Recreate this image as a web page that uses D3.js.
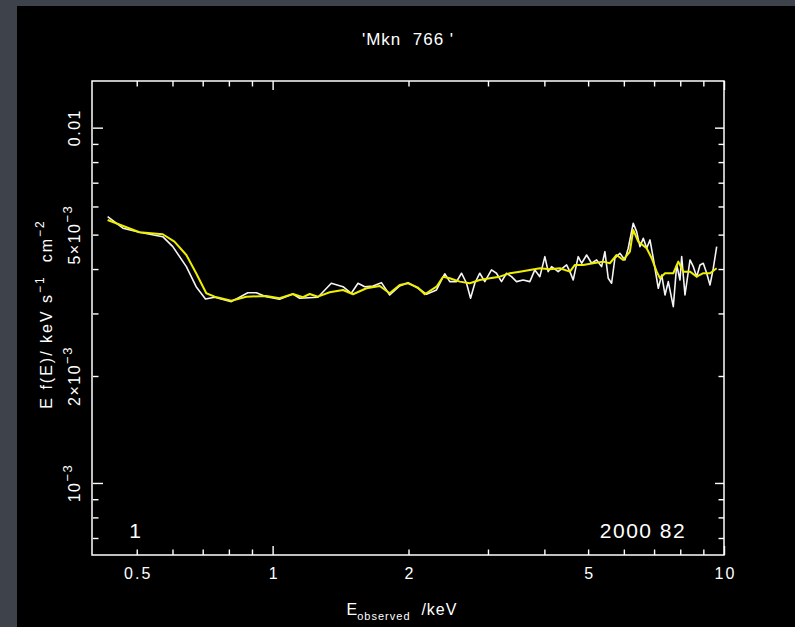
<!DOCTYPE html>
<html>
<head>
<meta charset="utf-8">
<script src="https://cdn.jsdelivr.net/npm/d3@7"></script>
<style>
  body { margin: 0; background: #3e434b; }
  svg text { font-family: "Liberation Sans", Arial, Helvetica, sans-serif; fill: #fff; }
</style>
</head>
<body>
<div id="viz"></div>
<script>
// Observed spectrum (white) and model (yellow); flux in units of 1e-3 keV s^-1 cm^-2
const dataEnergy = [0.431, 0.466, 0.507, 0.571, 0.601, 0.644, 0.677, 0.710, 0.744, 0.810,
  0.881, 0.920, 0.968, 1.036, 1.109, 1.148, 1.260, 1.349, 1.432, 1.494,
  1.546, 1.600, 1.669, 1.742, 1.817, 1.912, 1.995, 2.100, 2.192, 2.307,
  2.406, 2.469, 2.555, 2.621, 2.689, 2.745, 2.805, 2.877, 2.952, 3.054,
  3.133, 3.214, 3.297, 3.383, 3.470, 3.589, 3.714, 3.810, 3.909, 4.010,
  4.078, 4.150, 4.292, 4.480, 4.556, 4.634, 4.753, 4.837, 4.962, 5.090,
  5.221, 5.356, 5.447, 5.540, 5.636, 5.732, 5.880, 6.032, 6.135, 6.294,
  6.404, 6.513, 6.625, 6.740, 6.855, 6.971, 7.152, 7.278, 7.401, 7.526,
  7.721, 7.856, 7.989, 8.059, 8.195, 8.408, 8.551, 8.700, 8.847, 8.997,
  9.154, 9.311, 9.469, 9.634];
const dataFlux = [5.617, 5.211, 5.077, 4.934, 4.626, 4.063, 3.568, 3.295, 3.332, 3.238,
  3.432, 3.432, 3.344, 3.289, 3.403, 3.310, 3.332, 3.648, 3.568, 3.419,
  3.648, 3.568, 3.585, 3.662, 3.381, 3.585, 3.662, 3.532, 3.397, 3.493,
  3.880, 3.687, 3.687, 3.893, 3.648, 3.310, 3.648, 3.893, 3.687, 3.977,
  3.893, 3.687, 3.893, 3.807, 3.687, 3.727, 3.687, 3.977, 3.807, 4.334,
  3.933, 4.063, 3.933, 4.108, 3.933, 3.727, 4.334, 4.153, 4.382, 4.153,
  4.243, 4.063, 4.477, 3.768, 3.648, 4.290, 4.431, 4.243, 4.578, 5.382,
  5.097, 4.626, 4.883, 4.578, 4.830, 4.290, 3.532, 3.849, 3.381, 3.687,
  3.135, 4.108, 3.727, 4.334, 3.381, 4.243, 4.063, 3.807, 4.108, 4.153,
  3.893, 3.608, 4.021, 4.626];

const modelEnergy = [0.431, 0.507, 0.571, 0.606, 0.644, 0.677, 0.713, 0.744, 0.810, 0.874,
  0.968, 1.036, 1.109, 1.167, 1.208, 1.260, 1.338, 1.432, 1.507, 1.614,
  1.727, 1.817, 1.912, 1.995, 2.100, 2.173, 2.307, 2.386, 2.469, 2.598,
  2.734, 2.877, 3.028, 3.186, 3.354, 3.529, 3.714, 3.909, 4.114, 4.329,
  4.556, 4.674, 4.875, 5.131, 5.400, 5.587, 5.782, 5.980, 6.188, 6.294,
  6.457, 6.740, 6.915, 7.094, 7.215, 7.401, 7.721, 7.921, 8.126, 8.408,
  8.700, 8.997, 9.311, 9.634];
const modelFlux = [5.498, 5.077, 5.012, 4.777, 4.382, 3.893, 3.419, 3.344, 3.259, 3.344,
  3.359, 3.310, 3.403, 3.332, 3.403, 3.344, 3.441, 3.493, 3.397, 3.532,
  3.585, 3.419, 3.608, 3.648, 3.545, 3.397, 3.568, 3.807, 3.768, 3.687,
  3.648, 3.727, 3.768, 3.807, 3.893, 3.933, 3.977, 4.021, 3.996, 4.021,
  3.933, 4.108, 4.108, 4.153, 4.197, 4.153, 4.382, 4.243, 4.477, 5.153,
  4.777, 4.578, 4.290, 3.933, 3.768, 3.893, 3.893, 4.197, 3.933, 3.933,
  3.807, 3.893, 3.893, 4.021];

// Ticks
const xMinorTicks = [0.5, 0.6, 0.7, 0.8, 0.9, 2, 3, 4, 5, 6, 7, 8, 9];
const xMajorTicks = [1, 10];
const xLabelTicks = [0.5, 1, 2, 5, 10];
const yMinorTicks = [7e-4, 8e-4, 9e-4, 2e-3, 3e-3, 4e-3, 5e-3, 6e-3, 7e-3, 8e-3, 9e-3];
const yMajorTicks = [1e-3, 1e-2];
const yLabelTicks = [1e-2, 5e-3, 2e-3, 1e-3];
const yLabelBase = ['0.01', '5×10', '2×10', '10'];
const yLabelExp = ['', '−3', '−3', '−3'];

const width = 795;
const height = 627;
const plot = {left: 93, right: 724, top: 81, bottom: 555};

const svg = d3.select('#viz')
  .append('svg')
    .attr('width', width)
    .attr('height', height);

// gray slide border + black panel
svg.append('rect')
  .attr('width', width).attr('height', height)
  .attr('fill', '#3e434b');
svg.append('rect')
  .attr('x', 17).attr('y', 6)
  .attr('width', width - 17).attr('height', height - 6)
  .attr('fill', '#000');

const xScale = d3.scaleLog()
  .domain([0.4, 10])
  .range([plot.left, plot.right]);

const yScale = d3.scaleLog()
  .domain([6.27e-4, 0.01353])
  .range([plot.bottom, plot.top]);

const tickColor = '#fff';

const drawAxis = (axis, transform) => {
  const g = svg.append('g')
    .attr('transform', transform)
    .call(axis);
  g.select('.domain').remove();
  g.attr('color', tickColor)
    .attr('font-size', 16);
  g.selectAll('line').attr('stroke-width', 1.4);
  return g;
};

// bottom / top ticks (pointing inward)
drawAxis(d3.axisBottom(xScale).tickValues(xMinorTicks).tickSize(-5.5).tickFormat(''),
  `translate(0, ${plot.bottom})`);
drawAxis(d3.axisBottom(xScale).tickValues(xMajorTicks).tickSize(-9).tickFormat(''),
  `translate(0, ${plot.bottom})`);
drawAxis(d3.axisTop(xScale).tickValues(xMinorTicks).tickSize(-5.5).tickFormat(''),
  `translate(0, ${plot.top})`);
drawAxis(d3.axisTop(xScale).tickValues(xMajorTicks).tickSize(-9).tickFormat(''),
  `translate(0, ${plot.top})`);

// x tick labels
const xLab = drawAxis(d3.axisBottom(xScale).tickValues(xLabelTicks).tickSize(0)
    .tickPadding(13).tickFormat(d3.format('~g')),
  `translate(0, ${plot.bottom})`);
xLab.selectAll('text').attr('letter-spacing', 2).attr('dx', 1);

// left / right ticks
drawAxis(d3.axisLeft(yScale).tickValues(yMinorTicks).tickSize(-5.5).tickFormat(''),
  `translate(${plot.left}, 0)`);
drawAxis(d3.axisLeft(yScale).tickValues(yMajorTicks).tickSize(-10).tickFormat(''),
  `translate(${plot.left}, 0)`);
drawAxis(d3.axisRight(yScale).tickValues(yMinorTicks).tickSize(-5.5).tickFormat(''),
  `translate(${plot.right}, 0)`);
drawAxis(d3.axisRight(yScale).tickValues(yMajorTicks).tickSize(-9).tickFormat(''),
  `translate(${plot.right}, 0)`);

// y tick labels, rotated like the original
const yLab = svg.append('g').selectAll('text')
  .data(yLabelTicks)
  .join('text')
    .attr('transform', d => `translate(80, ${yScale(d)}) rotate(-90)`)
    .attr('text-anchor', 'middle')
    .attr('font-size', 16)
    .attr('letter-spacing', 1.5);
yLab.append('tspan').text((d, i) => yLabelBase[i]);
yLab.append('tspan')
  .attr('font-size', 13)
  .attr('dy', '-0.6em')
  .text((d, i) => yLabelExp[i]);

// frame
svg.append('rect')
  .attr('x', plot.left - 1)
  .attr('y', plot.top)
  .attr('width', plot.right - plot.left + 1)
  .attr('height', plot.bottom - plot.top)
  .attr('fill', 'none')
  .attr('stroke', '#fff')
  .attr('stroke-width', 1.5);

// spectra
const lineGen = d3.line()
  .x(d => xScale(d[0]))
  .y(d => yScale(d[1] * 1e-3));

svg.append('path')
  .attr('d', lineGen(dataEnergy.map((e, i) => [e, dataFlux[i]])))
  .attr('fill', 'none')
  .attr('stroke', '#f4f4f4')
  .attr('stroke-width', 1.6)
  .attr('stroke-linejoin', 'round');

svg.append('path')
  .attr('d', lineGen(modelEnergy.map((e, i) => [e, modelFlux[i]])))
  .attr('fill', 'none')
  .attr('stroke', '#eeee00')
  .attr('stroke-width', 2)
  .attr('stroke-linejoin', 'round');

// title
svg.append('text')
  .attr('x', 408)
  .attr('y', 45)
  .attr('text-anchor', 'middle')
  .attr('font-size', 17)
  .attr('letter-spacing', 1)
  .style('white-space', 'pre')
  .text("'Mkn  766 '");

// axis titles
const xTitle = svg.append('text')
  .attr('x', 402)
  .attr('y', 615)
  .attr('text-anchor', 'middle')
  .attr('font-size', 16)
  .style('white-space', 'pre');
xTitle.append('tspan').text('E');
xTitle.append('tspan').attr('font-size', 11).attr('dy', 5).attr('letter-spacing', 1).text('observed');
xTitle.append('tspan').attr('dy', -5).attr('letter-spacing', 1).text('  /keV');

const yTitle = svg.append('text')
  .attr('transform', 'translate(52, 314) rotate(-90)')
  .attr('text-anchor', 'middle')
  .attr('font-size', 16)
  .attr('letter-spacing', 2)
  .style('white-space', 'pre');
yTitle.append('tspan').text('E f(E)/ keV s');
yTitle.append('tspan').attr('font-size', 12).attr('dy', -8).text('−1');
yTitle.append('tspan').attr('dy', 8).text('  cm');
yTitle.append('tspan').attr('font-size', 12).attr('dy', -8).text('−2');

// corner annotations
svg.append('text')
  .attr('x', 135)
  .attr('y', 538)
  .attr('text-anchor', 'middle')
  .attr('font-size', 21)
  .text('1');

svg.append('text')
  .attr('x', 643)
  .attr('y', 538)
  .attr('text-anchor', 'middle')
  .attr('font-size', 21)
  .attr('letter-spacing', 1.5)
  .style('white-space', 'pre')
  .text('2000 82');
</script>
</body>
</html>
